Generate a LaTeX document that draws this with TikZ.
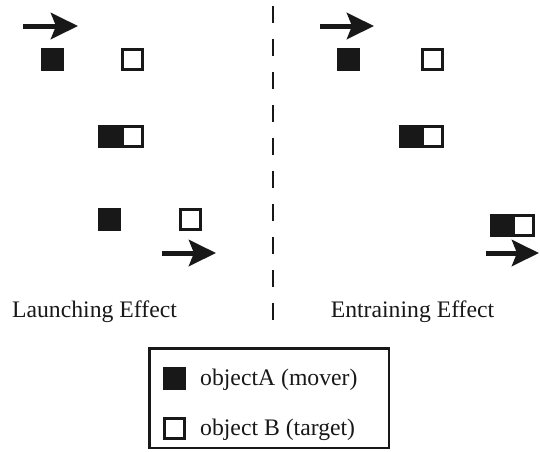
\documentclass[tikz,border=0pt]{standalone}
\usepackage{fontspec}
\setmainfont{Liberation Serif}
\usetikzlibrary{arrows.meta,positioning}
\definecolor{casiNegro}{RGB}{24,24,24}
\tikzstyle{mover}  =[rectangle, fill=casiNegro, minimum size=23pt,
                    inner sep=0pt, outer sep=0pt]
\tikzstyle{target} =[rectangle, draw=casiNegro, fill=white,
                    line width=3pt, minimum size=20pt,
                    inner sep=0pt, outer sep=0pt]
\tikzstyle{motion} =[-{Stealth[length=27pt,width=26pt,inset=5pt]},
                    line width=5pt, casiNegro]
\tikzstyle{divider}=[line width=1.3pt, dash pattern=on 17pt off 16pt,
                    casiNegro]
\tikzstyle{caption}=[font=\fontsize{23.7}{28}\selectfont,
                    inner sep=0pt, text=casiNegro]

\begin{document}
\begin{tikzpicture}[x=1pt,y=-1pt]
    \useasboundingbox (0,0) rectangle (540,451);

        % launching
        \begin{scope}
            \draw (52.5,59) node (a1) [mover] {};
            \draw (132.5,59) node (b1) [target] {};
            \draw (109.5,136.5) node (a2) [mover] {};
            \draw (132.5,136.5) node (b2) [target] {};
            \draw (109.5,219) node (a3) [mover] {};
            \draw (190.5,219) node (b3) [target] {};
            \coordinate (p1) at (23,26);
            \coordinate (q1) at (78,26);
            \coordinate (p3) at (162,253);
            \coordinate (q3) at (216,253);
            \draw (94.5,317) node (launch) [caption, anchor=base] {Launching Effect};
        \end{scope}

        % entraining
        \begin{scope}
            \draw (348.5,59) node (a4) [mover] {};
            \draw (432.5,59) node (b4) [target] {};
            \draw (410.5,136.5) node (a5) [mover] {};
            \draw (432.5,136.5) node (b5) [target] {};
            \draw (501,225.5) node (a6) [mover] {};
            \draw (523,225.5) node (b6) [target] {};
            \coordinate (p4) at (320,26);
            \coordinate (q4) at (374,26);
            \coordinate (p6) at (486,253);
            \coordinate (q6) at (539,253);
            \draw (412.5,317) node (entrain) [caption, anchor=base] {Entraining Effect};
        \end{scope}

        \foreach \i in {1,3,4,6}
            \draw [motion] (p\i) -- (q\i);

        \coordinate (top) at (273,6);
        \coordinate (bottom) at (273,321);
        \draw [divider] (top) -- (bottom);

        % key
        \draw (269,398) node (key) [draw=casiNegro, line width=2.5pt,
            minimum width=239.5pt, minimum height=99.5pt] {};
        \draw (174.5,378) node (keyA) [mover] {};
        \draw (174.5,428.5) node (keyB) [target] {};
        \draw (200,385) node (txtA) [caption, anchor=base west] {objectA (mover)};
        \draw (200,435) node (txtB) [caption, anchor=base west] {object B (target)};

    \end{tikzpicture}
\end{document}
